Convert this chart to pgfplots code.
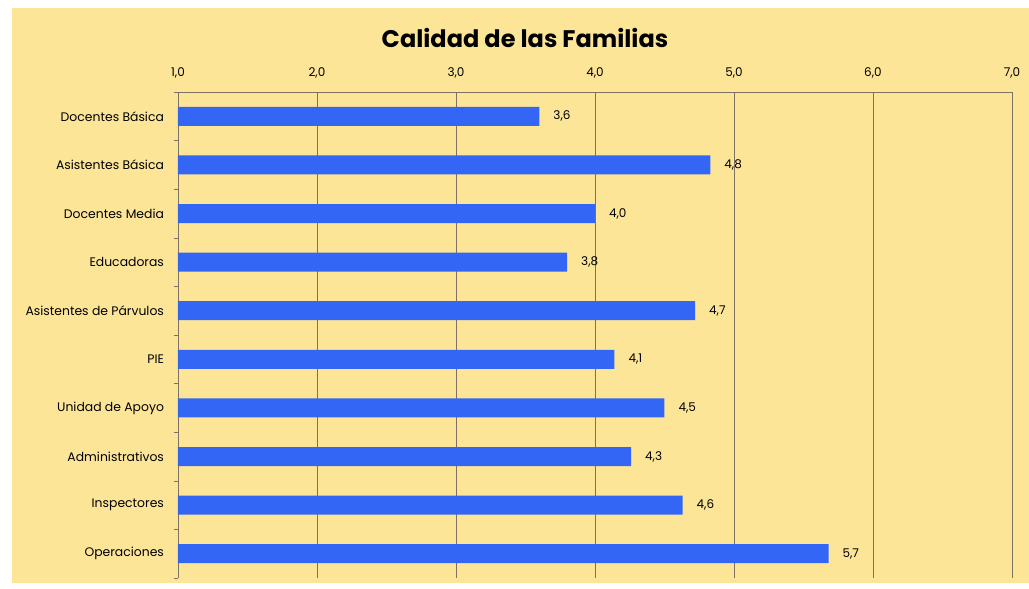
\documentclass[border=0pt]{standalone}
\usepackage{pgfplots}
\pgfplotsset{compat=1.18}
\usepackage{fontspec}
\setmainfont{Poppins}
\definecolor{BgYellow}{HTML}{FDE598}
\definecolor{BarBlue}{HTML}{3366F5}
\definecolor{GridGray}{HTML}{7D7262}

\begin{document}
\begin{tikzpicture}[x=1pt,y=1pt]
  % page and chart area (1px = 0.75pt)
  \path[fill=white] (-133.5,-8.25) rectangle (638.25,433.5);
  \path[fill=BgYellow] (-124.5,-3.75) rectangle (638.25,427.5);
  \begin{axis}[
    at={(0,0)},anchor=south west,scale only axis,width=625.5pt,height=364.5pt,
    xbar,bar width=14.25pt,
    xmin=1,xmax=7,ymin=0.5,ymax=10.5,y dir=reverse,
    axis x line*=top,axis y line*=left,axis line style={-,draw=GridGray},
    xtick={1,2,...,7},xmajorgrids,grid style={draw=GridGray,line width=0.6pt},
    xticklabel style={font=\fontsize{9}{10}\selectfont,yshift=7pt},
    x tick style={draw=none},
    /pgf/number format/.cd,fixed,fixed zerofill,precision=1,use comma,assume math mode=true,/pgfplots/.cd,
    ytick={1,...,10},
    yticklabels={Docentes Básica,Asistentes Básica,Docentes Media,Educadoras,Asistentes de Párvulos,PIE,Unidad de Apoyo,Administrativos,Inspectores,Operaciones},
    yticklabel style={font=\fontsize{9.3}{10}\selectfont,xshift=-7pt},
    minor ytick={0.5,1.5,...,10.5},
    major tick length=0pt,minor tick length=3pt,tick align=outside,
    y tick style={draw=GridGray},
    point meta=x,
    nodes near coords={\pgfmathprintnumber[fixed,fixed zerofill,precision=1,use comma,assume math mode=true]{\pgfplotspointmeta}},
    every node near coord/.append style={anchor=west,xshift=7pt,font=\fontsize{9}{10}\selectfont,text=black},
  ]
    \addplot[draw=none,fill=BarBlue] coordinates {
      (3.60,1) (4.83,2) (4.00,3) (3.80,4) (4.72,5)
      (4.14,6) (4.50,7) (4.26,8) (4.63,9) (5.68,10)
    };
  \end{axis}
  \node at (260.25,405) {\fontsize{18}{20}\selectfont\bfseries Calidad de las Familias};
\end{tikzpicture}
\end{document}
